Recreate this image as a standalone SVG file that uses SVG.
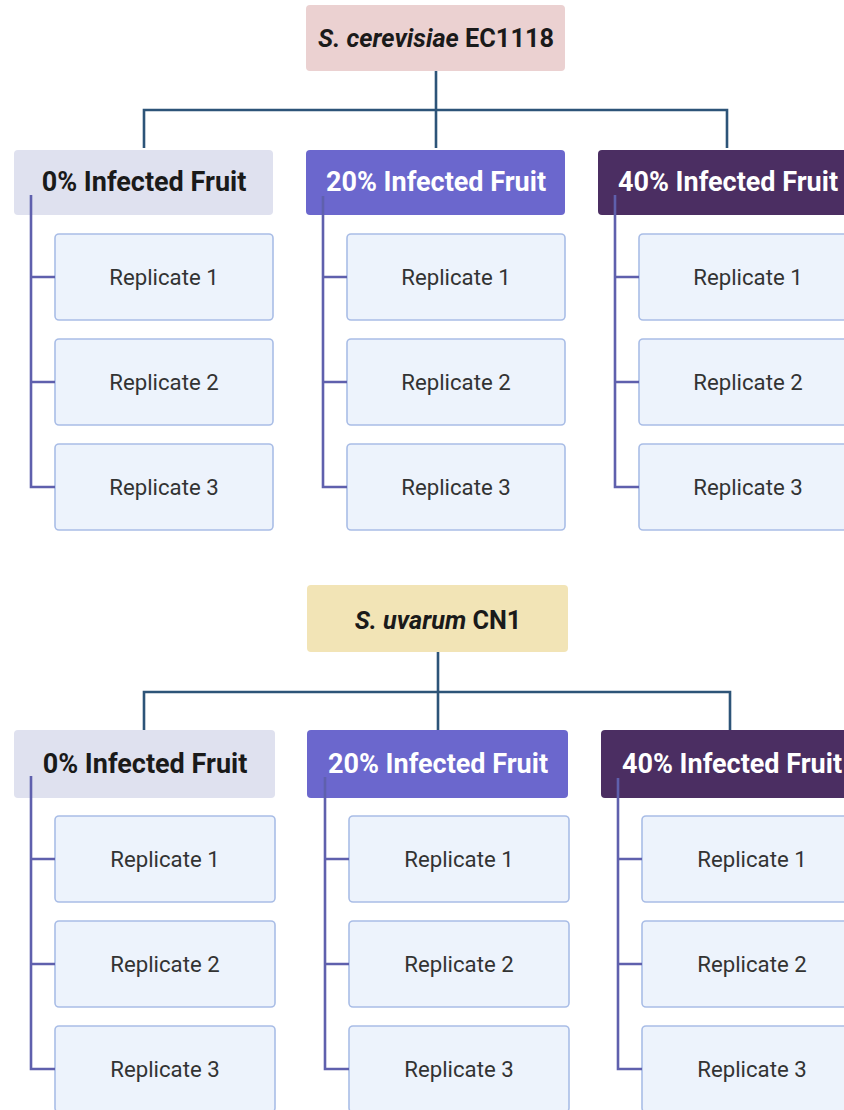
<svg xmlns="http://www.w3.org/2000/svg" width="844" height="1110" viewBox="0 0 844 1110">
<style>
text{font-family:Roboto,"Liberation Sans",sans-serif;text-anchor:middle;}
.root{font-size:25.3px;font-weight:700;fill:#1a1a1a;}
.grp{font-size:27px;font-weight:700;}
.rep{font-size:22.2px;fill:#333333;}
.repbox{fill:#edf3fc;stroke:#a9bde6;stroke-width:1.6;}
.main{fill:none;stroke:#2d5478;stroke-width:2.6;}
.sub{fill:none;stroke:#5f60ad;stroke-width:2.6;}
</style>
<rect width="844" height="1110" fill="#ffffff"/>
<g id="root1"><rect x="306" y="5" width="259" height="66" rx="4" fill="#ebd1d1"/><text class="root" x="436" y="47"><tspan font-style="italic">S. cerevisiae</tspan> EC1118</text></g>
<g id="g1-0"><rect x="14" y="150" width="259" height="65" rx="4" fill="#dfe1ef"/><text class="grp" x="144" y="191" fill="#1a1a1a">0% Infected Fruit</text></g>
<g id="g1-20"><rect x="306" y="150" width="259" height="65" rx="4" fill="#6b67cd"/><text class="grp" x="436" y="191" fill="#ffffff">20% Infected Fruit</text></g>
<g id="g1-40"><rect x="598" y="150" width="259" height="65" rx="4" fill="#4b2e62"/><text class="grp" x="728" y="191" fill="#ffffff">40% Infected Fruit</text></g>
<g id="r1-0-1"><rect class="repbox" x="55" y="234" width="218" height="86" rx="4"/><text class="rep" x="164" y="285">Replicate 1</text></g>
<g id="r1-0-2"><rect class="repbox" x="55" y="339" width="218" height="86" rx="4"/><text class="rep" x="164" y="390">Replicate 2</text></g>
<g id="r1-0-3"><rect class="repbox" x="55" y="444" width="218" height="86" rx="4"/><text class="rep" x="164" y="495">Replicate 3</text></g>
<g id="r1-20-1"><rect class="repbox" x="347" y="234" width="218" height="86" rx="4"/><text class="rep" x="456" y="285">Replicate 1</text></g>
<g id="r1-20-2"><rect class="repbox" x="347" y="339" width="218" height="86" rx="4"/><text class="rep" x="456" y="390">Replicate 2</text></g>
<g id="r1-20-3"><rect class="repbox" x="347" y="444" width="218" height="86" rx="4"/><text class="rep" x="456" y="495">Replicate 3</text></g>
<g id="r1-40-1"><rect class="repbox" x="639" y="234" width="218" height="86" rx="4"/><text class="rep" x="748" y="285">Replicate 1</text></g>
<g id="r1-40-2"><rect class="repbox" x="639" y="339" width="218" height="86" rx="4"/><text class="rep" x="748" y="390">Replicate 2</text></g>
<g id="r1-40-3"><rect class="repbox" x="639" y="444" width="218" height="86" rx="4"/><text class="rep" x="748" y="495">Replicate 3</text></g>
<g id="root2"><rect x="307" y="585" width="261" height="67" rx="4" fill="#f2e4b6"/><text class="root" x="438" y="629"><tspan font-style="italic">S. uvarum</tspan> CN1</text></g>
<g id="g2-0"><rect x="14" y="730" width="261" height="68" rx="4" fill="#dfe1ef"/><text class="grp" x="145" y="773" fill="#1a1a1a">0% Infected Fruit</text></g>
<g id="g2-20"><rect x="307" y="730" width="261" height="68" rx="4" fill="#6b67cd"/><text class="grp" x="438" y="773" fill="#ffffff">20% Infected Fruit</text></g>
<g id="g2-40"><rect x="601" y="730" width="261" height="68" rx="4" fill="#4b2e62"/><text class="grp" x="732" y="773" fill="#ffffff">40% Infected Fruit</text></g>
<g id="r2-0-1"><rect class="repbox" x="55" y="816" width="220" height="86" rx="4"/><text class="rep" x="165" y="867">Replicate 1</text></g>
<g id="r2-0-2"><rect class="repbox" x="55" y="921" width="220" height="86" rx="4"/><text class="rep" x="165" y="972">Replicate 2</text></g>
<g id="r2-0-3"><rect class="repbox" x="55" y="1026" width="220" height="86" rx="4"/><text class="rep" x="165" y="1077">Replicate 3</text></g>
<g id="r2-20-1"><rect class="repbox" x="349" y="816" width="220" height="86" rx="4"/><text class="rep" x="459" y="867">Replicate 1</text></g>
<g id="r2-20-2"><rect class="repbox" x="349" y="921" width="220" height="86" rx="4"/><text class="rep" x="459" y="972">Replicate 2</text></g>
<g id="r2-20-3"><rect class="repbox" x="349" y="1026" width="220" height="86" rx="4"/><text class="rep" x="459" y="1077">Replicate 3</text></g>
<g id="r2-40-1"><rect class="repbox" x="642" y="816" width="220" height="86" rx="4"/><text class="rep" x="752" y="867">Replicate 1</text></g>
<g id="r2-40-2"><rect class="repbox" x="642" y="921" width="220" height="86" rx="4"/><text class="rep" x="752" y="972">Replicate 2</text></g>
<g id="r2-40-3"><rect class="repbox" x="642" y="1026" width="220" height="86" rx="4"/><text class="rep" x="752" y="1077">Replicate 3</text></g>
<g id="connectors">
<path class="main" d="M436 71V148M144 148V110H727V148"/>
<path class="sub" d="M31 195V487H55M31 277H55M31 382H55"/>
<path class="sub" d="M323 196V487H347M323 277H347M323 382H347"/>
<path class="sub" d="M615 195V487H639M615 277H639M615 382H639"/>
<path class="main" d="M438 652V730M144 730V692H730V730"/>
<path class="sub" d="M31 776V1069H55M31 859H55M31 964H55"/>
<path class="sub" d="M325 777V1069H349M325 859H349M325 964H349"/>
<path class="sub" d="M618 778V1069H642M618 859H642M618 964H642"/>
</g>
</svg>
